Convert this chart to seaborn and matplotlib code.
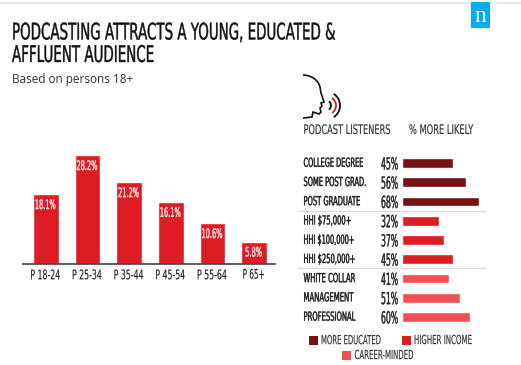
import matplotlib
matplotlib.use("Agg")
import matplotlib.pyplot as plt
import matplotlib.patheffects as pe
from matplotlib.transforms import Affine2D
from matplotlib.patches import Rectangle, PathPatch, Arc
from matplotlib.path import Path
import pandas as pd
import seaborn as sns

age_groups = ["P 18-24", "P 25-34", "P 35-44", "P 45-54", "P 55-64", "P 65+"]
age_values = [18.1, 28.2, 21.2, 16.1, 10.6, 5.8]
age_labels = ["18.1%", "28.2%", "21.2%", "16.1%", "10.6%", "5.8%"]

segments = ["COLLEGE DEGREE", "SOME POST GRAD.", "POST GRADUATE",
            "HHI $75,000+", "HHI $100,000+", "HHI $250,000+",
            "WHITE COLLAR", "MANAGEMENT", "PROFESSIONAL"]
likely = [45, 56, 68, 32, 37, 45, 41, 51, 60]
groups = ["MORE EDUCATED"] * 3 + ["HIGHER INCOME"] * 3 + ["CAREER-MINDED"] * 3
palette = {"MORE EDUCATED": "#7A0F14", "HIGHER INCOME": "#DF1B24", "CAREER-MINDED": "#F24E53"}

W, H = 521, 365
fig = plt.figure(figsize=(W / 100, H / 100), dpi=100, facecolor="white")
sns.set_style("white")
NARROW = "Liberation Sans Narrow"


class Tall(pe.AbstractPathEffect):
    """Stretches text vertically about its centre line, giving a condensed look."""

    def __init__(self, y0, sy, stroke=0.0):
        super().__init__()
        self.y0, self.sy, self.stroke = y0, sy, stroke

    def draw_path(self, renderer, gc, tpath, affine, rgbFace=None):
        a = affine + Affine2D().translate(0, -self.y0).scale(1, self.sy).translate(0, self.y0)
        if self.stroke:
            gc.set_linewidth(self.stroke)
            gc.set_foreground(rgbFace[:3])
        renderer.draw_path(gc, tpath, a, rgbFace)


def px_axes(x0, y0, x1, y1):
    return fig.add_axes([x0 / W, 1 - y1 / H, (x1 - x0) / W, (y1 - y0) / H])


def text(x, y, s, size, width, color="#1c1c1c", family=NARROW, weight="normal", stroke=0.0):
    """size is the apparent height; the real font size is set so the width matches."""
    t = fig.text(x / W, 1 - y / H, s, fontsize=size, color=color, ha="left", va="center",
                 family=family, weight=weight)
    natural = t.get_window_extent(fig.canvas.get_renderer()).width
    real = size * width / natural
    t.set_fontsize(real)
    t.set_path_effects([Tall(H - y, size / real, stroke)])
    return t


# top rule and logo
fig.add_artist(Rectangle((0, 1 - 3.5 / H), 1, 2 / H, transform=fig.transFigure, color="#E6E8EE", lw=0))
fig.add_artist(Rectangle((471 / W, 1 - 28 / H), 19 / W, 26 / H, transform=fig.transFigure, color="#00AEEF", lw=0))
fig.text(480.5 / W, 1 - 16.5 / H, "n", color="white", fontsize=17, family="Liberation Serif", ha="center", va="center")

# titles
text(12, 33.5, "PODCASTING ATTRACTS A YOUNG, EDUCATED &", 16.5, 323, color="#111111", stroke=0.3)
text(12, 56, "AFFLUENT AUDIENCE", 16.5, 142, color="#111111", stroke=0.3)
fig.text(12 / W, 1 - 79 / H, "Based on persons 18+", fontsize=8.5, color="#333333", family="Open Sans", va="center")

# age bars
ax = px_axes(23, 150, 275, 264)
df_age = pd.DataFrame({"age": age_groups, "value": age_values})
sns.barplot(data=df_age, x="age", y="value", color="#DD1C24", saturation=1, width=0.62, ax=ax)
ax.set_xlim(-0.55, 5.5)
ax.set_ylim(0, 114 / (109 / 28.2))
ax.set_xlabel("")
ax.set_ylabel("")
ax.set_yticks([])
ax.set_xticks([])
sns.despine(ax=ax, left=True)
ax.spines["bottom"].set_color("#444444")
ax.spines["bottom"].set_linewidth(1.2)
ax.patch.set_alpha(0)
for i, (v, lab) in enumerate(zip(age_values, age_labels)):
    px = 25 + (i + 0.5) * 250 / 6 - 0.5
    py = 264 - v * 109 / 28.2 + 11
    w = 17 if i == 5 else 21
    text(px - w / 2, py, lab, 9.5, w, color="#FBE3E3", stroke=0.3)
    w = 22 if i == 5 else 30
    text(px - w / 2, 275, age_groups[i], 9.5, w, color="#222222", stroke=0.1)

# right-hand bars
ax2 = px_axes(402.3, 153.4, 402.3 + 113.4, 326.6)
df_seg = pd.DataFrame({"segment": segments, "likely": likely, "group": groups})
sns.barplot(data=df_seg, y="segment", x="likely", hue="group", palette=palette, saturation=1,
            dodge=False, width=0.5, legend=False, orient="h", ax=ax2)
ax2.set_xlim(0, 100)
ax2.set_ylim(8.5, -0.5)
ax2.axis("off")

seg_widths = [60, 63, 57, 48, 51, 52, 52, 50, 52]
for i, (s, v) in enumerate(zip(segments, likely)):
    py = 163 + i * 19.25
    text(303.5, py, s, 9, seg_widths[i], color="#1a1a1a", stroke=0.3)
    text(381, py + 1, f"{v}%", 12, 17, color="#222222", stroke=0.3)

text(303.5, 130, "PODCAST LISTENERS", 9.5, 87, color="#333333", stroke=0.1)
text(409, 130, "% MORE LIKELY", 9.5, 64, color="#333333", stroke=0.1)

for yy in (211, 268):
    fig.add_artist(plt.Line2D([298 / W, 485 / W], [1 - yy / H] * 2, color="#DDDDDD", lw=1))

# legend
for (x, y, lab, w) in [(308.5, 340.5, "MORE EDUCATED", 60), (401.5, 340.5, "HIGHER INCOME", 58),
                       (342, 355.5, "CAREER-MINDED", 59)]:
    fig.add_artist(Rectangle((x / W, 1 - (y + 4.5) / H), 9 / W, 9 / H, transform=fig.transFigure,
                             color=palette[lab], lw=0))
    text(x + 12.5, y, lab, 9, w, color="#333333", stroke=0.1)

# head icon
P = lambda x, y: (x / W, 1 - y / H)
verts = [(303, 75), (312, 75.5), (318, 80), (320, 87), (321, 93), (324, 102), (321, 103), (322, 106),
         (320, 108), (321, 112), (319, 114), (313, 112), (312, 117), (303, 118)]
head = Path([P(*v) for v in verts], [Path.MOVETO] + [Path.CURVE4] * 3 + [Path.LINETO] * 10)
fig.add_artist(PathPatch(head, transform=fig.transFigure, fill=False, edgecolor="#111111", lw=1.2))
for cx, r, col in [(326, 5, "#111111"), (327, 9, "#DF1B24"), (326, 14, "#111111")]:
    fig.add_artist(Arc((cx / W, 1 - 105.5 / H), 2 * r / W, 2 * r / H, theta1=-65, theta2=65,
                       transform=fig.transFigure, color=col, lw=1.3))

fig.savefig("out.png", dpi=100)
